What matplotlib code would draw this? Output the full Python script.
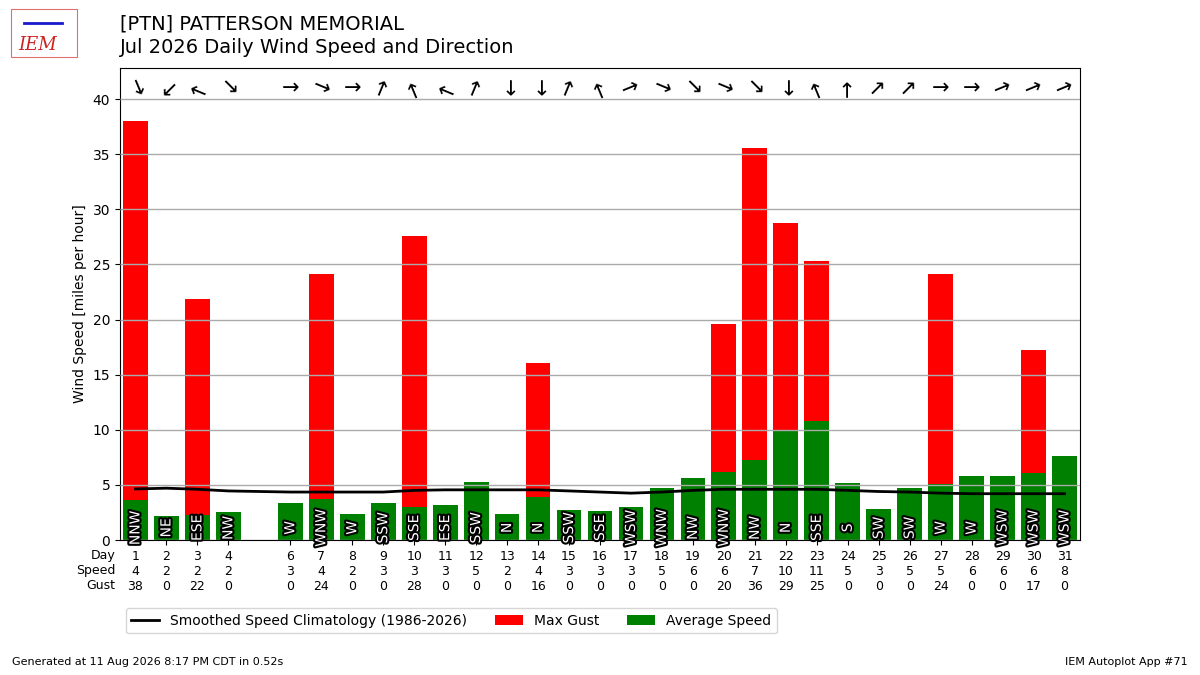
import matplotlib
matplotlib.use("Agg")
import matplotlib.pyplot as plt
import matplotlib.patheffects as PathEffects
import numpy as np

# daily data (day 5 missing)
days = [1, 2, 3, 4, 6, 7, 8, 9, 10, 11, 12, 13, 14, 15, 16,
        17, 18, 19, 20, 21, 22, 23, 24, 25, 26, 27, 28, 29, 30, 31]
avg_speed = [3.6, 2.2, 2.3, 2.5, 3.4, 3.7, 2.4, 3.4, 3.0, 3.2, 5.3, 2.4, 3.9, 2.7, 2.6,
             3.0, 4.7, 5.6, 6.2, 7.3, 9.9, 10.8, 5.2, 2.8, 4.7, 5.1, 5.8, 5.8, 6.1, 7.6]
max_gust = [38.0, 0, 21.9, 0, 0, 24.1, 0, 0, 27.6, 0, 0, 0, 16.1, 0, 0,
            0, 0, 0, 19.6, 35.6, 28.75, 25.3, 0, 0, 0, 24.1, 0, 0, 17.2, 0]
wind_dir = ["NNW", "NE", "ESE", "NW", "W", "WNW", "W", "SSW", "SSE", "ESE", "SSW", "N", "N",
            "SSW", "SSE", "WSW", "WNW", "NW", "WNW", "NW", "N", "SSE", "S", "SW", "SW",
            "W", "W", "WSW", "WSW", "WSW"]

clim_days = list(range(1, 32))
clim_speed = [4.63, 4.7, 4.6, 4.45, 4.4, 4.35, 4.35, 4.35, 4.35, 4.5, 4.55, 4.55, 4.55, 4.55,
              4.45, 4.35, 4.25, 4.35, 4.5, 4.6, 4.6, 4.6, 4.6, 4.5, 4.4, 4.35, 4.25, 4.2,
              4.2, 4.2, 4.2]

compass = ["N", "NNE", "NE", "ENE", "E", "ESE", "SE", "SSE",
           "S", "SSW", "SW", "WSW", "W", "WNW", "NW", "NNW"]

fig = plt.figure(figsize=(12, 6.75), dpi=100)
ax = fig.add_axes([0.1, 0.2, 0.8, 0.699])

ax.bar(days, max_gust, width=0.8, color="r", label="Max Gust", zorder=2)
ax.bar(days, avg_speed, width=0.8, color="g", label="Average Speed", zorder=2)
ax.plot(clim_days, clim_speed, color="k", lw=2, zorder=4,
        label="Smoothed Speed Climatology (1986-2026)")

for d, txt in zip(days, wind_dir):
    t = ax.text(d, 1.1, txt, rotation=90, ha="center", va="center",
                color="white", fontsize=10, zorder=5)
    t.set_path_effects([PathEffects.withStroke(linewidth=3, foreground="k")])
    # arrow points the way the wind blows
    deg = compass.index(txt) * 22.5
    ax.text(d, 41.0, "\u2192", rotation=(-90 - deg) % 360, rotation_mode="anchor",
            ha="center", va="center", fontsize=15, zorder=5)

ax.set_xlim(0.5, 31.5)
ax.set_ylim(0, 42.8)
ax.set_yticks(range(0, 45, 5))
ax.grid(axis="y", color="#aaaaaa", lw=1, zorder=3)
ax.set_axisbelow(False)
ax.set_ylabel("Wind Speed [miles per hour]")

ax.set_xticks(days)
ax.set_xticklabels(["%d\n%.0f\n%.0f" % (d, s, g) for d, s, g in zip(days, avg_speed, max_gust)],
                   fontsize=9)
ax.text(-0.005, -0.02, "Day\nSpeed\nGust", transform=ax.transAxes, ha="right", va="top",
        fontsize=9)

ax.legend(loc="upper center", bbox_to_anchor=(0.345, -0.13), ncol=3, fontsize=10)

fig.text(0.1, 0.965, "[PTN] PATTERSON MEMORIAL", fontsize=14, va="center")
fig.text(0.1, 0.929, "Jul 2026 Daily Wind Speed and Direction", fontsize=14, va="center")
fig.text(0.01, 0.015, "Generated at 11 Aug 2026 8:17 PM CDT in 0.52s", fontsize=8)
fig.text(0.99, 0.015, "IEM Autoplot App #71", fontsize=8, ha="right")

# rough stand-in for the IEM logo
fig.text(0.031, 0.933, "IEM", color="#cc2222", fontsize=13, fontstyle="italic",
         family="serif", ha="center", va="center")
fig.add_artist(plt.Line2D([0.02, 0.052], [0.966, 0.966], color="#1a1acc", lw=2))
fig.add_artist(plt.Rectangle((0.009, 0.915), 0.055, 0.072, fill=False,
                             edgecolor="#e07070", lw=0.8))

fig.savefig("out.png", dpi=100)
